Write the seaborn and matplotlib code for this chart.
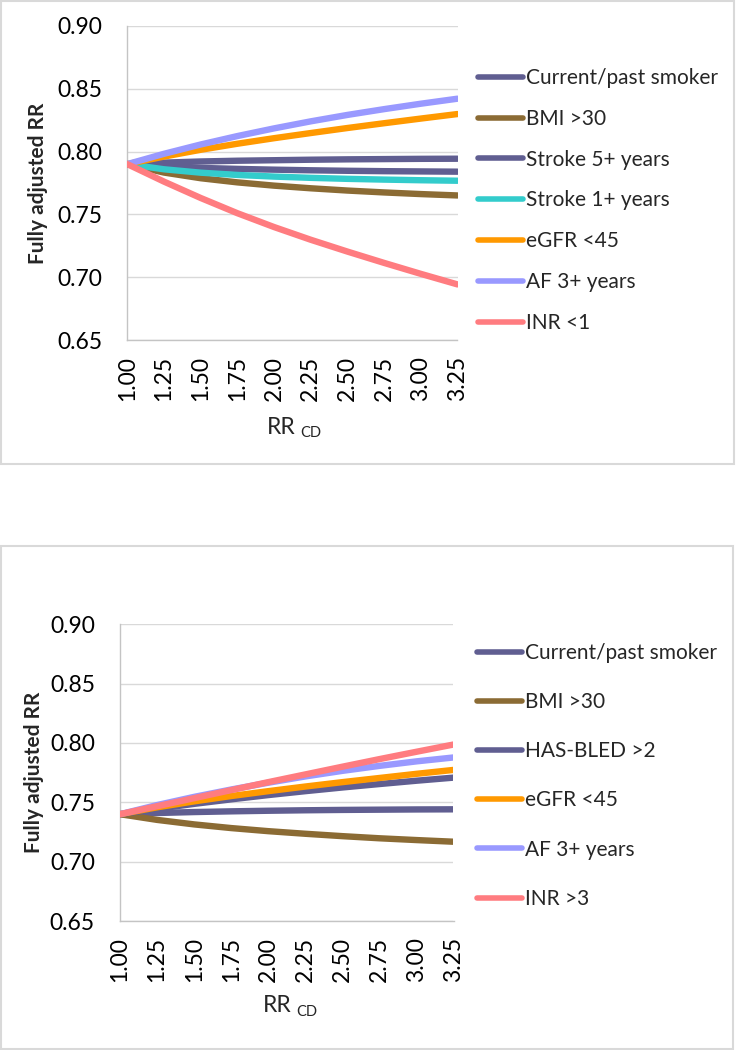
import numpy as np
import pandas as pd
import seaborn as sns
import matplotlib.pyplot as plt
from matplotlib.lines import Line2D
from matplotlib.patches import Rectangle
from matplotlib.ticker import MultipleLocator, FormatStrFormatter

# x values (RR_CD)
rr = [1.00, 1.25, 1.50, 1.75, 2.00, 2.25, 2.50, 2.75, 3.00, 3.25]

# top panel series
top_labels = ['Current/past smoker', 'BMI >30', 'Stroke 5+ years', 'Stroke 1+ years',
              'eGFR <45', 'AF 3+ years', 'INR <1']
top_smoker = [0.7900, 0.7912, 0.7921, 0.7927, 0.7931, 0.7935, 0.7938, 0.7940, 0.7942, 0.7943]
top_bmi = [0.7900, 0.7833, 0.7788, 0.7755, 0.7729, 0.7708, 0.7690, 0.7675, 0.7662, 0.7651]
top_stroke5 = [0.7900, 0.7882, 0.7870, 0.7862, 0.7856, 0.7851, 0.7847, 0.7844, 0.7842, 0.7840]
top_stroke1 = [0.7900, 0.7859, 0.7832, 0.7814, 0.7801, 0.7791, 0.7783, 0.7777, 0.7772, 0.7768]
top_egfr = [0.7900, 0.7960, 0.8014, 0.8062, 0.8106, 0.8147, 0.8187, 0.8225, 0.8262, 0.8298]
top_af = [0.7900, 0.7982, 0.8056, 0.8123, 0.8184, 0.8240, 0.8291, 0.8337, 0.8380, 0.8420]
top_inr = [0.7900, 0.7761, 0.7631, 0.7510, 0.7400, 0.7299, 0.7205, 0.7115, 0.7028, 0.6944]

# bottom panel series
bot_labels = ['Current/past smoker', 'BMI >30', 'HAS-BLED >2', 'eGFR <45',
              'AF 3+ years', 'INR >3']
bot_smoker = [0.7400, 0.7410, 0.7418, 0.7424, 0.7429, 0.7433, 0.7436, 0.7438, 0.7440, 0.7441]
bot_bmi = [0.7400, 0.7352, 0.7314, 0.7283, 0.7257, 0.7235, 0.7215, 0.7197, 0.7182, 0.7168]
bot_hasbled = [0.7400, 0.7445, 0.7487, 0.7525, 0.7561, 0.7594, 0.7625, 0.7654, 0.7682, 0.7708]
bot_egfr = [0.7400, 0.7458, 0.7508, 0.7553, 0.7594, 0.7633, 0.7670, 0.7705, 0.7740, 0.7773]
bot_af = [0.7400, 0.7477, 0.7546, 0.7608, 0.7665, 0.7718, 0.7765, 0.7807, 0.7845, 0.7878]
bot_inr = [0.7400, 0.7467, 0.7535, 0.7603, 0.7670, 0.7735, 0.7800, 0.7864, 0.7926, 0.7987]

# colours
purple = '#605E91'
brown = '#8B6B34'
teal = '#33CCCC'
orange = '#FF9900'
lavender = '#9999FF'
pink = '#FF7C80'
grid_color = '#D9D9D9'
axis_color = '#C4C4C4'

top_colors = [purple, brown, purple, teal, orange, lavender, pink]
bot_colors = [purple, brown, purple, orange, lavender, pink]

sns.set_style('white')
plt.rcParams['font.family'] = ['Lato', 'DejaVu Sans']

W, H = 741, 1050
fig = plt.figure(figsize=(W / 100, H / 100), dpi=100)


def fx(px):
    return px / W


def fy(py):
    return 1 - py / H


def draw_panel(left, right, top, bottom, labels, series, colors,
               leg_x, leg_y, leg_space, ylab_x, ylab_y, xlab_x, xlab_y, ypad):
    ax = fig.add_axes([fx(left), fy(bottom), fx(right - left), fy(top) - fy(bottom)])

    df = pd.DataFrame({
        'RR': rr * len(labels),
        'value': np.concatenate(series),
        'series': np.repeat(labels, len(rr)),
        'order': np.repeat(np.arange(len(labels)), len(rr)),
    })
    # draw one series at a time so later ones sit on top (same as the source)
    for i, lab in enumerate(labels):
        sub = df[df.order == i]
        sns.lineplot(data=sub, x='RR', y='value', color=colors[i], linewidth=4.6,
                     ax=ax, zorder=3 + i, legend=False)

    ax.set_xlim(1.0, 3.25)
    ax.set_ylim(0.65, 0.90)
    ax.xaxis.set_major_locator(MultipleLocator(0.25))
    ax.yaxis.set_major_locator(MultipleLocator(0.05))
    ax.yaxis.set_minor_locator(MultipleLocator(0.01))
    ax.xaxis.set_major_formatter(FormatStrFormatter('%.2f'))
    ax.yaxis.set_major_formatter(FormatStrFormatter('%.2f'))

    ax.grid(True, axis='y', which='major', color=grid_color, linewidth=1.0, zorder=0)
    ax.set_axisbelow(True)
    for side in ['top', 'right']:
        ax.spines[side].set_visible(False)
    for side in ['left', 'bottom']:
        ax.spines[side].set_color(axis_color)
        ax.spines[side].set_linewidth(1.0)

    ax.tick_params(axis='y', which='major', direction='out', length=6, width=1.0,
                   color=grid_color, pad=ypad, labelsize=16.5, labelcolor='black')
    ax.tick_params(axis='y', which='minor', direction='inout', length=8, width=1.0,
                   color=axis_color)
    ax.tick_params(axis='x', which='major', direction='out', length=6.5, width=1.0,
                   color=axis_color, pad=5, labelsize=16.5, labelcolor='black',
                   labelrotation=90)
    ax.set_xlabel('')
    ax.set_ylabel('')

    # legend
    handles = [Line2D([0], [0], color=c, linewidth=4.0, solid_capstyle='round')
               for c in colors]
    ax.legend(handles, labels, loc='upper left',
              bbox_to_anchor=(fx(leg_x), fy(leg_y)), bbox_transform=fig.transFigure,
              frameon=False, fontsize=15, handlelength=2.15, handletextpad=0.15,
              labelspacing=leg_space, borderpad=0, borderaxespad=0)

    # axis titles
    fig.text(fx(ylab_x), fy(ylab_y), 'Fully adjusted RR', rotation=90, fontsize=15,
             fontweight='bold', ha='center', va='center')
    fig.text(fx(xlab_x), fy(xlab_y), 'RR', fontsize=16.5, ha='left', va='center')
    fig.text(fx(xlab_x + 33), fy(xlab_y + 6), 'CD', fontsize=10.5, ha='left', va='center')
    return ax


# outer boxes round each panel
fig.patches.append(Rectangle((fx(1), fy(464)), fx(733), fy(1) - fy(464),
                             transform=fig.transFigure, fill=False,
                             edgecolor=grid_color, linewidth=1.5))
fig.patches.append(Rectangle((fx(1), fy(1049)), fx(732), fy(546) - fy(1049),
                             transform=fig.transFigure, fill=False,
                             edgecolor=grid_color, linewidth=1.5))

draw_panel(127.3, 457.5, 25.7, 340.3, top_labels,
           [top_smoker, top_bmi, top_stroke5, top_stroke1, top_egfr, top_af, top_inr],
           top_colors, leg_x=478, leg_y=68, leg_space=1.0,
           ylab_x=38, ylab_y=183, xlab_x=267, xlab_y=427, ypad=12)

draw_panel(120, 453.5, 624.3, 921, bot_labels,
           [bot_smoker, bot_bmi, bot_hasbled, bot_egfr, bot_af, bot_inr],
           bot_colors, leg_x=477, leg_y=643, leg_space=1.4,
           ylab_x=34, ylab_y=772, xlab_x=263, xlab_y=1006, ypad=12)

fig.savefig('out.png', dpi=100)
